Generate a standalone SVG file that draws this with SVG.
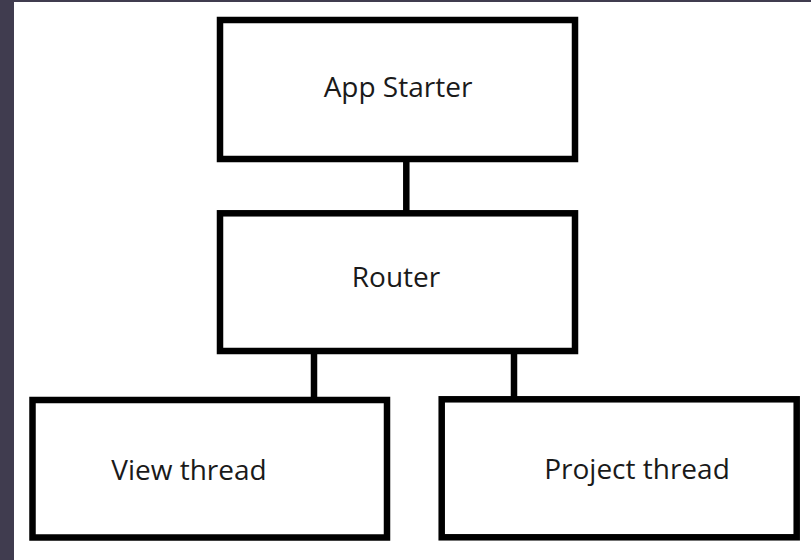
<svg xmlns="http://www.w3.org/2000/svg" width="811" height="560" viewBox="0 0 811 560">
<style>
.box{fill:#ffffff;stroke:#000000;stroke-width:6.5}
.lbl{font-family:"Open Sans","Noto Sans","DejaVu Sans",sans-serif;font-size:28px;fill:#1a1a1a;text-anchor:middle}
.con{stroke:#000000;stroke-width:6.5;fill:none}
</style>
<rect x="0" y="0" width="811" height="560" fill="#403c4f"/>
<rect x="14" y="2" width="797" height="558" fill="#ffffff"/>
<g id="connectors">
<line class="con" x1="406.3" y1="159" x2="406.3" y2="213"/>
<line class="con" x1="314" y1="351" x2="314" y2="400"/>
<line class="con" x1="514" y1="351" x2="514" y2="399"/>
</g>
<g id="app-starter">
<rect class="box" x="220" y="20" width="355" height="139"/>
<text class="lbl" x="398" y="96.5">App Starter</text>
</g>
<g id="router">
<rect class="box" x="220" y="213.3" width="355" height="137.7"/>
<text class="lbl" x="396" y="287.3">Router</text>
</g>
<g id="view-thread">
<rect class="box" x="32.5" y="400" width="354.5" height="137.5"/>
<text class="lbl" x="189" y="480">View thread</text>
</g>
<g id="project-thread">
<rect class="box" x="441.7" y="399.3" width="355" height="138"/>
<text class="lbl" x="637" y="479.3">Project thread</text>
</g>
</svg>
